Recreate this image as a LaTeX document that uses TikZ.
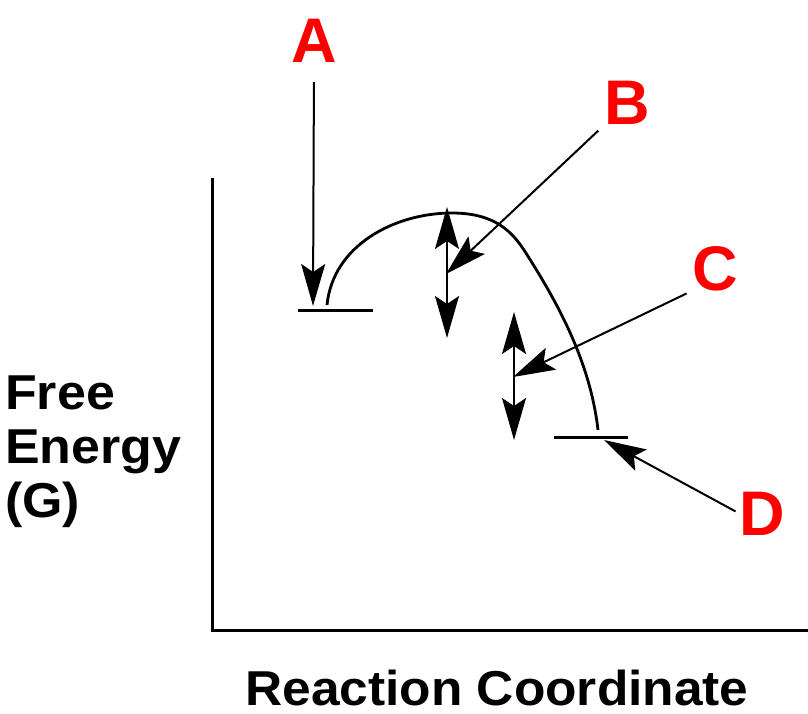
\documentclass[tikz,border=0pt]{standalone}
\usepackage{fontspec}
\setmainfont{Liberation Sans}
\usetikzlibrary{arrows.meta}
\definecolor{labelred}{RGB}{255,0,0}

\begin{document}
\begin{tikzpicture}[x=1pt, y=-1pt,
  letter/.style={font=\fontsize{63}{63}\selectfont\bfseries, text=labelred, inner sep=0pt, anchor=base},
  axistext/.style={font=\fontsize{49}{54}\selectfont\bfseries, inner sep=0pt},
  pointer/.style={-{Stealth[length=42pt, width=24pt, inset=8pt]}, line width=2pt},
  twoway/.style={{Stealth[length=42pt, width=24pt, inset=8pt]}-{Stealth[length=42pt, width=24pt, inset=8pt]}, line width=2pt},
  level/.style={line width=3pt}]
  \useasboundingbox (0,0) rectangle (808,714);

  % axes and their titles
  \draw[line width=3pt] (212,178) -- (212,630) -- (808,630);
  \node[axistext, align=left, anchor=north west] (yname) at (5,376)
    {\scalebox{1.06}[1]{Free}\\\scalebox{1.06}[1]{Energy}\\\scalebox{1.06}[1]{(G)}};
  \node[axistext, anchor=base, text depth=0pt] (xname) at (497,705) {\scalebox{1.05}[1]{Reaction Coordinate}};

  % levels and the curve between them
  \draw[level] (298,310) coordinate (startL) -- (373,310);
  \draw[level] (554,437) coordinate (endL) -- (628,437);
  \draw[line width=2.8pt] (327,305) .. controls (333,245) and (395,213) .. (452,213)
    .. controls (495,213) and (512,232) .. (524,250)
    .. controls (556,300) and (590,360) .. (598,430);

  % up/down arrows
  \coordinate (topB) at (447,207);
  \coordinate (botB) at (447,338);
  \coordinate (topC) at (514,312);
  \coordinate (botC) at (514,440);
  \draw[twoway] (topB) -- (botB);
  \draw[twoway] (topC) -- (botC);

  % labels
  \node[letter] (A) at (314,63) {A};
  \node[letter] (B) at (627,125) {B};
  \node[letter] (C) at (715,290) {C};
  \node[letter] (D) at (762,535) {D};

  \coordinate (tipA) at (313,306);
  \coordinate (tipB) at (446,274);
  \coordinate (tipC) at (513,377);
  \coordinate (tipD) at (604,440);

  \draw[pointer, shorten <=19pt] (A.south) -- (tipA);
  \draw[pointer, shorten <=8pt] (B.south west) -- (tipB);
  \draw[pointer, shorten <=6pt] (C.south west) -- (tipC);
  \draw[pointer, shorten <=4pt] (D.west) -- (tipD);
\end{tikzpicture}
\end{document}
